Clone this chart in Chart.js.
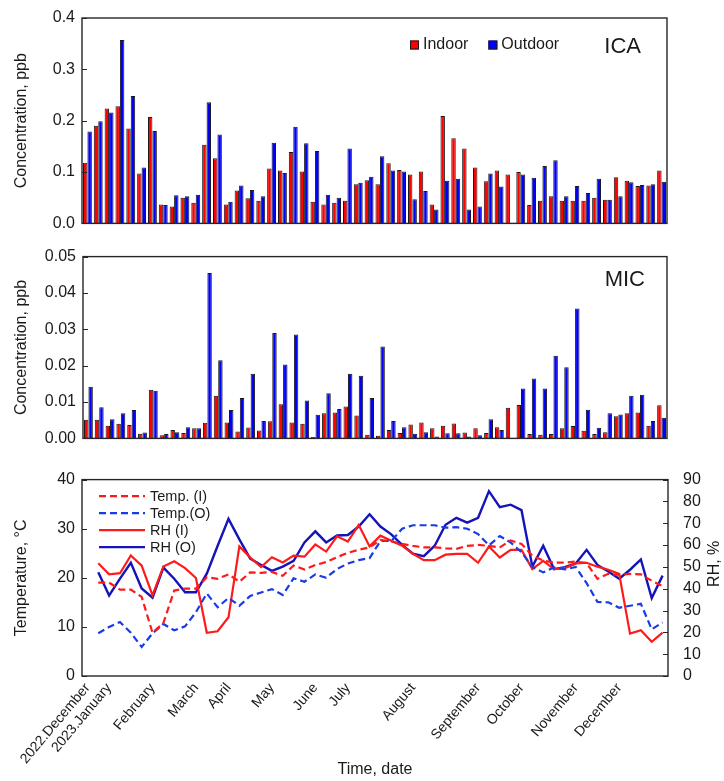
<!DOCTYPE html>
<html>
<head>
<meta charset="utf-8">
<script src="https://cdn.jsdelivr.net/npm/chart.js@4.4.1/dist/chart.umd.min.js"></script>
<style>
  html, body { margin: 0; padding: 0; background: #fff; }
  #wrap { position: relative; width: 724px; height: 781px; }
  .panel { position: absolute; left: 0; width: 724px; }
</style>
</head>
<body>
<div id="wrap">
  <div class="panel" style="top:0;height:240px"><canvas id="ica" width="724" height="240"></canvas></div>
  <div class="panel" style="top:240px;height:215px"><canvas id="mic" width="724" height="215"></canvas></div>
  <div class="panel" style="top:455px;height:326px"><canvas id="met" width="724" height="326"></canvas></div>
</div>
<script>
// ---- weekly sampling, Dec 2022 – Dec 2023 ----
const monthNames = ['2022.December', '2023.January', 'February', 'March', 'April', 'May', 'June',
                    'July', 'August', 'September', 'October', 'November', 'December'];
// week index at which each month label is placed
const monthWeeks = [0, 2, 6, 10, 13, 17, 21, 24, 30, 36, 40, 45, 49];

// ICA concentration, ppb
const icaIndoor = [0.118, 0.190, 0.224, 0.228, 0.185, 0.097, 0.207, 0.037, 0.033, 0.050,
                   0.040, 0.153, 0.127, 0.037, 0.064, 0.049, 0.044, 0.107, 0.103, 0.139,
                   0.101, 0.042, 0.037, 0.040, 0.044, 0.076, 0.084, 0.076, 0.117, 0.104,
                   0.095, 0.101, 0.037, 0.209, 0.166, 0.146, 0.109, 0.082, 0.103, 0.095,
                   0.100, 0.036, 0.044, 0.053, 0.044, 0.044, 0.044, 0.050, 0.046, 0.090,
                   0.083, 0.073, 0.074, 0.103];
const icaOutdoor = [0.179, 0.199, 0.216, 0.357, 0.248, 0.109, 0.180, 0.036, 0.055, 0.053,
                    0.056, 0.236, 0.173, 0.042, 0.074, 0.065, 0.053, 0.157, 0.098, 0.188,
                    0.156, 0.141, 0.056, 0.050, 0.146, 0.079, 0.091, 0.131, 0.103, 0.101,
                    0.047, 0.063, 0.027, 0.083, 0.087, 0.027, 0.033, 0.097, 0.072, null,
                    0.095, 0.089, 0.112, 0.123, 0.053, 0.073, 0.059, 0.087, 0.046, 0.053,
                    0.080, 0.075, 0.076, 0.081];

// MIC concentration, ppb
const micIndoor = [0.0051, 0.0051, 0.0035, 0.0040, 0.0037, 0.0013, 0.0134, 0.0009, 0.0023, 0.0015,
                   0.0028, 0.0043, 0.0117, 0.0044, 0.0019, 0.0030, 0.0022, 0.0047, 0.0094, 0.0044,
                   0.0040, 0.0004, 0.0069, 0.0071, 0.0088, 0.0063, 0.0010, 0.0007, 0.0023, 0.0015,
                   0.0038, 0.0044, 0.0028, 0.0035, 0.0041, 0.0016, 0.0028, 0.0015, 0.0031, 0.0084,
                   0.0092, 0.0012, 0.0010, 0.0012, 0.0028, 0.0034, 0.0021, 0.0012, 0.0017, 0.0061,
                   0.0069, 0.0071, 0.0035, 0.0091];
const micOutdoor = [0.0142, 0.0086, 0.0053, 0.0069, 0.0078, 0.0016, 0.0131, 0.0012, 0.0017, 0.0031,
                    0.0028, 0.0455, 0.0215, 0.0078, 0.0111, 0.0178, 0.0048, 0.0290, 0.0203, 0.0286,
                    0.0104, 0.0065, 0.0124, 0.0081, 0.0178, 0.0172, 0.0111, 0.0253, 0.0048, 0.0031,
                    0.0013, 0.0017, 0.0005, 0.0014, 0.0014, 0.0005, 0.0009, 0.0053, 0.0023, null,
                    0.0137, 0.0165, 0.0137, 0.0227, 0.0196, 0.0357, 0.0079, 0.0029, 0.0069, 0.0066,
                    0.0117, 0.0120, 0.0048, 0.0057];

// Temperature (°C) and relative humidity (%), no record in the first week
const tempIndoor = [null,
  19.0, 19.0, 17.6, 17.6, 16.1, 8.8, 10.8, 17.4, 17.8, 17.8,
  20.1, 19.8, 20.7, 19.2, 21.1, 21.0, 21.2, 20.4, 22.5, 21.7,
  22.6, 23.2, 24.2, 25.1, 25.7, 26.2, 27.7, 27.4, 26.9, 26.5,
  26.2, 26.2, 26.0, 25.9, 26.5, 26.7, 26.5, 26.2, 27.6, 26.9,
  24.5, 23.5, 23.1, 23.1, 23.3, 23.0, 19.8, 20.8, 20.6, 20.8,
  20.7, 19.4, 18.3];
const tempOutdoor = [null,
  8.7, 10.0, 11.0, 8.8, 5.9, 8.7, 10.6, 9.3, 10.1, 13.0,
  16.8, 14.0, 15.9, 14.3, 16.3, 17.0, 17.7, 16.5, 19.9, 19.2,
  20.7, 20.0, 21.8, 22.9, 23.6, 24.0, 27.5, 27.5, 30.0, 30.7,
  30.7, 30.7, 30.2, 30.3, 30.0, 28.9, 26.6, 28.5, 27.2, 25.2,
  22.2, 21.1, 22.1, 21.7, 22.2, 18.9, 15.1, 15.0, 13.9, 14.3,
  14.7, 9.5, 10.9];
const rhIndoor = [null,
  51.7, 46.6, 47.1, 55.2, 50.6, 37.0, 50.2, 52.6, 49.4, 44.9,
  19.8, 20.5, 26.9, 59.4, 54.3, 49.9, 54.4, 52.0, 55.2, 54.7,
  60.3, 57.0, 64.0, 61.6, 69.2, 59.4, 64.3, 62.0, 59.7, 56.0,
  53.1, 53.1, 55.6, 56.0, 56.0, 51.9, 59.3, 54.3, 57.8, 57.8,
  49.0, 52.8, 49.0, 49.4, 51.6, 51.9, 50.1, 48.7, 46.8, 19.4,
  21.0, 15.7, 19.9];
const rhOutdoor = [null,
  47.5, 36.9, 44.6, 51.9, 40.1, 35.9, 49.7, 44.6, 38.4, 38.4,
  46.9, 59.7, 72.0, 62.6, 53.8, 50.9, 48.2, 50.1, 52.8, 61.2,
  66.3, 61.2, 64.4, 64.6, 68.5, 74.1, 68.5, 64.9, 60.1, 56.0,
  54.9, 59.7, 69.3, 72.5, 70.3, 72.5, 84.7, 77.4, 78.5, 76.0,
  50.1, 59.7, 49.0, 49.9, 51.6, 57.8, 50.9, 47.9, 44.6, 48.7,
  53.4, 35.7, 46.0];

// category labels: month name on its first sampled week, blank otherwise
const weekLabels = icaIndoor.map((_, i) => {
  const m = monthWeeks.indexOf(i);
  return m >= 0 ? monthNames[m] : '';
});

const FONT = '"Liberation Sans", Arial, Helvetica, sans-serif';
Chart.defaults.font.family = FONT;
Chart.defaults.font.size = 16;
Chart.defaults.color = '#1a1a1a';

const RED = '#ff0000';
const BLUE = '#0000ff';
const EDGE = '#1a1a1a';

// box around the plot area plus short inward tick marks on the value axes
const framePlugin = {
  id: 'frame',
  afterDatasetsDraw(chart) {
    const { ctx, chartArea: a } = chart;
    ctx.save();
    ctx.strokeStyle = '#262626';
    ctx.lineWidth = 1.4;
    ctx.strokeRect(a.left, a.top, a.right - a.left, a.bottom - a.top);
    ctx.lineWidth = 1;
    Object.values(chart.scales).forEach(s => {
      if (s.axis !== 'y') return;
      const x0 = s.position === 'left' ? a.left : a.right;
      const dir = s.position === 'left' ? 1 : -1;
      s.ticks.forEach((t, i) => {
        const y = Math.round(s.getPixelForTick(i)) + 0.5;
        ctx.beginPath();
        ctx.moveTo(x0, y);
        ctx.lineTo(x0 + dir * 5, y);
        ctx.stroke();
      });
    });
    ctx.restore();
  }
};

// panel name in the upper right corner
const panelTitle = {
  id: 'panelTitle',
  afterDraw(chart, args, o) {
    if (!o.text) return;
    const { ctx, chartArea: a } = chart;
    ctx.save();
    ctx.font = '22px ' + FONT;
    ctx.fillStyle = '#1a1a1a';
    ctx.textAlign = 'right';
    ctx.textBaseline = 'middle';
    ctx.fillText(o.text, a.right - o.dx, a.top + o.dy);
    ctx.restore();
  }
};

// square-swatch legend for the bar panels
const barLegend = {
  id: 'barLegend',
  afterDraw(chart, args, o) {
    if (!o.display) return;
    const { ctx, chartArea: a } = chart;
    ctx.save();
    ctx.font = '16px ' + FONT;
    ctx.textBaseline = 'middle';
    let x = a.left + o.x;
    const y = a.top + o.y;
    chart.data.datasets.forEach(ds => {
      ctx.fillStyle = ds.backgroundColor;
      ctx.fillRect(x, y - 4.5, 9, 9);
      ctx.strokeStyle = EDGE;
      ctx.lineWidth = 1;
      ctx.strokeRect(x + 0.5, y - 4, 8, 8);
      ctx.fillStyle = '#1a1a1a';
      ctx.fillText(ds.label, x + 13, y);
      x += 13 + ctx.measureText(ds.label).width + 20;
    });
    ctx.restore();
  }
};

// line-sample legend for the temperature / humidity panel
const lineLegend = {
  id: 'lineLegend',
  afterDraw(chart, args, o) {
    if (!o.display) return;
    const { ctx, chartArea: a } = chart;
    ctx.save();
    ctx.font = '14.5px ' + FONT;
    ctx.textBaseline = 'middle';
    chart.data.datasets.forEach((ds, i) => {
      const y = a.top + o.y + i * o.step;
      ctx.strokeStyle = ds.borderColor;
      ctx.lineWidth = ds.borderWidth;
      ctx.setLineDash(ds.borderDash || []);
      ctx.beginPath();
      ctx.moveTo(a.left + o.x, y);
      ctx.lineTo(a.left + o.x + o.len, y);
      ctx.stroke();
      ctx.setLineDash([]);
      ctx.fillStyle = '#1a1a1a';
      ctx.fillText(ds.label, a.left + o.x + o.len + 5, y + 1);
    });
    ctx.restore();
  }
};

// right-hand axis title, written bottom-to-top like the left one
const rightTitle = {
  id: 'rightTitle',
  afterDraw(chart, args, o) {
    if (!o.text) return;
    const { ctx, chartArea: a } = chart;
    ctx.save();
    ctx.font = '16px ' + FONT;
    ctx.fillStyle = '#1a1a1a';
    ctx.textAlign = 'center';
    ctx.textBaseline = 'middle';
    ctx.translate(o.x, (a.top + a.bottom) / 2 + o.dy);
    ctx.rotate(-Math.PI / 2);
    ctx.fillText(o.text, 0, 0);
    ctx.restore();
  }
};

function barPanel(canvasId, indoor, outdoor, opts) {
  return new Chart(document.getElementById(canvasId), {
    type: 'bar',
    data: {
      labels: weekLabels,
      datasets: [
        { label: 'Indoor', data: indoor, backgroundColor: RED, borderColor: EDGE, borderWidth: 1 },
        { label: 'Outdoor', data: outdoor, backgroundColor: BLUE, borderColor: EDGE, borderWidth: 1 }
      ]
    },
    options: {
      responsive: false,
      animation: false,
      layout: { padding: opts.padding },
      datasets: { bar: { categoryPercentage: 0.82, barPercentage: 1.0 } },
      plugins: {
        legend: { display: false },
        tooltip: { enabled: false },
        panelTitle: opts.title,
        barLegend: opts.legend
      },
      scales: {
        x: { display: false, offset: true },
        y: {
          min: 0, max: opts.max,
          ticks: { stepSize: opts.step, padding: 7, callback: v => v.toFixed(opts.decimals) },
          grid: { display: false, drawTicks: false },
          border: { display: false },
          title: { display: true, text: 'Concentration, ppb', font: { size: 16 }, padding: { top: 12, bottom: 0 } },
          afterFit(s) { s.width = opts.axisWidth; }
        }
      }
    },
    plugins: [framePlugin, panelTitle, barLegend]
  });
}

barPanel('ica', icaIndoor, icaOutdoor, {
  padding: { top: 18, right: 57, bottom: 14, left: 0 },
  max: 0.4, step: 0.1, decimals: 1, axisWidth: 82,
  title: { text: 'ICA', dx: 26, dy: 29 },
  legend: { display: true, x: 328, y: 27 }
});

barPanel('mic', micIndoor, micOutdoor, {
  padding: { top: 11, right: 57, bottom: 11, left: 0 },
  max: 0.05, step: 0.01, decimals: 2, axisWidth: 83,
  title: { text: 'MIC', dx: 22, dy: 23 },
  legend: { display: false }
});

new Chart(document.getElementById('met'), {
  type: 'line',
  data: {
    labels: weekLabels,
    datasets: [
      { label: 'Temp. (I)', data: tempIndoor, yAxisID: 'y', borderColor: '#ff1a1a', borderWidth: 2.2, borderDash: [7, 4] },
      { label: 'Temp.(O)', data: tempOutdoor, yAxisID: 'y', borderColor: '#1a3be6', borderWidth: 2.2, borderDash: [7, 4] },
      { label: 'RH (I)', data: rhIndoor, yAxisID: 'y1', borderColor: '#ff1a1a', borderWidth: 2.2 },
      { label: 'RH (O)', data: rhOutdoor, yAxisID: 'y1', borderColor: '#1414b8', borderWidth: 2.4 }
    ]
  },
  options: {
    responsive: false,
    animation: false,
    layout: { padding: { top: 17, right: 0, bottom: 0, left: 0 } },
    elements: { point: { radius: 0 }, line: { tension: 0, fill: false } },
    plugins: {
      legend: { display: false },
      tooltip: { enabled: false },
      lineLegend: { display: true, x: 17, y: 16.5, step: 17, len: 46 },
      rightTitle: { text: 'RH, %', x: 715, dy: -14 }
    },
    scales: {
      x: {
        offset: true,
        grid: { display: false, drawTicks: false },
        border: { display: false },
        ticks: { autoSkip: false, minRotation: 50, maxRotation: 50, padding: 4, font: { size: 14 } },
        title: { display: true, text: 'Time, date', font: { size: 16 }, padding: { top: 0, bottom: 2 } },
        afterFit(s) { s.height = 105; }
      },
      y: {
        position: 'left',
        min: 0, max: 40,
        ticks: { stepSize: 10, padding: 7, autoSkip: false },
        grid: { display: false, drawTicks: false },
        border: { display: false },
        title: { display: true, text: 'Temperature, °C', font: { size: 16 }, padding: { top: 12, bottom: 0 } },
        afterFit(s) { s.width = 82; }
      },
      y1: {
        position: 'right',
        min: 0, max: 90,
        ticks: { stepSize: 10, padding: 15, autoSkip: false },
        grid: { display: false, drawTicks: false },
        border: { display: false },
        afterFit(s) { s.width = 56; }
      }
    }
  },
  plugins: [framePlugin, lineLegend, rightTitle]
});
</script>
</body>
</html>
